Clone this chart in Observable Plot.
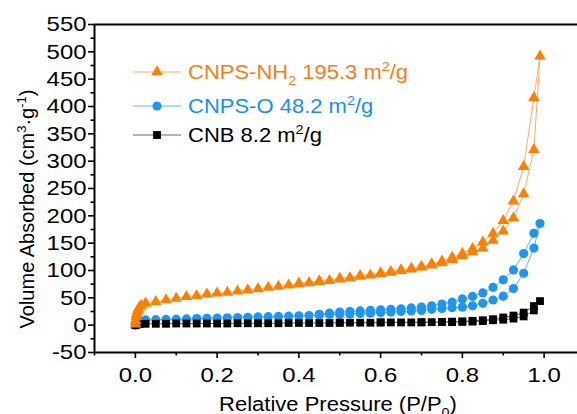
<!DOCTYPE html>
<html><head><meta charset="utf-8">
<script src="https://cdn.jsdelivr.net/npm/d3@7"></script>
<script src="https://cdn.jsdelivr.net/npm/@observablehq/plot@0.6"></script>
<style>
html,body{margin:0;padding:0;background:#fff;}
#chart{position:relative;width:577px;height:414px;overflow:hidden;}
</style></head><body><div id="chart"></div>
<script>
// ---- data ----
const xMajorTicks = [0, 0.2, 0.4, 0.6, 0.8, 1.0];
const xMinorTicks = [-0.1, 0.1, 0.3, 0.5, 0.7, 0.9];
const yMajorTicks = [-50, 0, 50, 100, 150, 200, 250, 300, 350, 400, 450, 500, 550];
const yMinorTicks = [-25, 25, 75, 125, 175, 225, 275, 325, 375, 425, 475, 525];

const seriesNames = ["CNPS-NH2", "CNPS-O", "CNB"];
const seriesAreas = ["195.3", "48.2", "8.2"];

// CNPS-NH2 (orange, triangles)
const nh2AdsP = [0.0005,0.001,0.002,0.003,0.005,0.007,0.01,0.015,0.025,0.05,0.075,0.1,0.125,0.15,0.175,0.2,0.225,0.25,0.275,0.3,0.325,0.35,0.375,0.4,0.425,0.45,0.475,0.5,0.525,0.55,0.575,0.6,0.625,0.65,0.675,0.7,0.725,0.75,0.775,0.8,0.825,0.85,0.875,0.9,0.925,0.95,0.975,0.99];
const nh2AdsV = [2,8,15,20,25,29,33,36,40,43,46,49,52,54,56.5,58.5,60,62,64.5,66.5,69,71,73,75.5,77.5,79.5,81.5,84,86.5,89,91.5,94,96.5,99.5,102.5,106,110,114,120,127,134,141,155,172,196,240,321,492];
const nh2DesP = [0.975,0.95,0.925,0.9,0.875,0.85,0.825,0.8,0.775,0.75,0.725,0.7,0.675,0.65,0.625,0.6,0.55,0.5,0.45,0.4];
const nh2DesV = [416,290,227,191,168,152,140,131,124,117,112,107.5,104,101,98,95.5,90.5,85.5,81,76.5];

// CNPS-O (blue, circles)
const oAdsP = [0,0.002,0.005,0.01,0.025,0.05,0.075,0.1,0.125,0.15,0.175,0.2,0.225,0.25,0.275,0.3,0.325,0.35,0.375,0.4,0.425,0.45,0.475,0.5,0.525,0.55,0.575,0.6,0.625,0.65,0.675,0.7,0.725,0.75,0.775,0.8,0.825,0.85,0.875,0.9,0.925,0.95,0.975,0.99];
const oAdsV = [0,4,7,8.5,9.5,10,10.5,11,11.5,12,12.5,13,13.5,14,14.5,15,15.5,16,16.5,17,17.5,18.5,19.5,20,20.5,21.5,22,23,24,25,26,27,29,30.5,32,33,35.5,40,46,53,67,95,141,186];
const oDesP = [0.975,0.95,0.925,0.9,0.875,0.85,0.825,0.8,0.775,0.75,0.725,0.7,0.675,0.65,0.625,0.6,0.575,0.55,0.525,0.5,0.475,0.45];
const oDesV = [168,131,101,83,69,59,52.5,48,42,38.5,35.5,33,31.5,30,29,28,27,26,25,24,22,20];

// CNB (black, squares)
const cnbAdsP = [0,0.002,0.005,0.01,0.025,0.05,0.075,0.1,0.125,0.15,0.175,0.2,0.225,0.25,0.275,0.3,0.325,0.35,0.375,0.4,0.425,0.45,0.475,0.5,0.525,0.55,0.575,0.6,0.625,0.65,0.675,0.7,0.725,0.75,0.775,0.8,0.825,0.85,0.875,0.9,0.925,0.95,0.975,0.99];
const cnbAdsV = [0,1,1.5,2,2.5,2.5,2.5,3,3,3,3,3,3,3.5,3.5,3.5,3.5,3.5,4,4,4,4,4,4.5,4.5,4.5,4.5,5,5,5,5,5,5.5,5.5,5.5,6,6.5,7.5,9,10,12,16,27,44];
const cnbDesP = [0.975,0.95,0.925,0.9,0.875,0.85,0.825,0.8,0.775,0.75,0.7,0.6,0.5];
const cnbDesV = [35,23,17.5,14,11,9,8,7,6.5,6,5.5,5,4.5];

// ---- build rows ----
function rows(name, adsP, adsV, desP, desV) {
  return adsP.map((p, i) => ({name, p, v: adsV[i]}))
    .concat(desP.map((p, i) => ({name, p, v: desV[i]})));
}
const nh2 = rows(seriesNames[0], nh2AdsP, nh2AdsV, nh2DesP, nh2DesV);
const cnpsO = rows(seriesNames[1], oAdsP, oAdsV, oDesP, oDesV);
const cnb = rows(seriesNames[2], cnbAdsP, cnbAdsV, cnbDesP, cnbDesV);

const ORANGE = "#ff7f00", ORANGE_LINE = "#ffad63", ORANGE_TEXT = "#f57e1c";
const BLUE = "#1e95ef", BLUE_LINE = "#62b2f2", BLUE_TEXT = "#1b8fe8";
const BLACK = "#000", BLACK_LINE = "#6a6a6a";
const FONT = "'Liberation Sans', Arial, Helvetica, sans-serif";

const plot = Plot.plot({
  width: 577, height: 414,
  marginLeft: 94, marginRight: 0, marginTop: 24, marginBottom: 62,
  x: {domain: [-0.1, 1.0817]},
  y: {domain: [-50, 550]},
  style: {fontFamily: FONT, fontSize: "21px", color: "#000", background: "#fff", overflow: "visible"},
  marks: [
    Plot.axisX({ticks: xMajorTicks, tickSize: 6, tickPadding: 9, tickFormat: d => d.toFixed(1), label: null, strokeWidth: 1.6, fontSize: 21}),
    Plot.axisX({ticks: xMinorTicks, tickSize: 3.5, tickFormat: () => "", label: null, strokeWidth: 1.6}),
    Plot.axisY({ticks: yMajorTicks, tickSize: 6, tickPadding: 2, tickFormat: d => String(d), label: null, strokeWidth: 1.6, fontSize: 21}),
    Plot.axisY({ticks: yMinorTicks, tickSize: 3.5, tickFormat: () => "", label: null, strokeWidth: 1.6}),
    Plot.ruleY([550], {stroke: "#000", strokeWidth: 2}),
    Plot.ruleY([-50], {stroke: "#000", strokeWidth: 2}),
    Plot.ruleX([-0.1], {stroke: "#000", strokeWidth: 2}),
    // CNPS-O
    Plot.line(cnpsO, {x: "p", y: "v", stroke: BLUE_LINE, strokeWidth: 1}),
    Plot.dot(cnpsO, {x: "p", y: "v", symbol: "circle", r: 4.6, fill: BLUE, stroke: "none"}),
    // CNB
    Plot.line(cnb, {x: "p", y: "v", stroke: BLACK_LINE, strokeWidth: 1}),
    Plot.dot(cnb, {x: "p", y: "v", symbol: "square", r: 4.4, fill: BLACK, stroke: "none"}),
    // CNPS-NH2
    Plot.line(nh2, {x: "p", y: "v", stroke: ORANGE_LINE, strokeWidth: 1}),
    Plot.dot(nh2, {x: "p", y: "v", symbol: "triangle", r: 4.3, fill: ORANGE, stroke: "none"})
  ]
});
document.getElementById("chart").appendChild(plot);

// widen horizontal texts a little, as in the reference
function stretch(sel, k) {
  sel.each(function() {
    const len = this.getComputedTextLength();
    if (len > 0) {
      this.setAttribute("textLength", (len * k).toFixed(2));
      this.setAttribute("lengthAdjust", "spacingAndGlyphs");
    }
  });
}
const svg = d3.select(plot);
stretch(svg.selectAll("text"), 1.14);

function richText(g, parts, attrs) {
  const t = g.append("text").attr("font-family", FONT);
  for (const [k, v] of Object.entries(attrs)) t.attr(k, v);
  let shift = 0;
  for (const part of parts) {
    const ts = t.append("tspan").text(part.t);
    const target = part.sup ? -8 : part.sub ? 6 : 0;
    if (target !== shift) ts.attr("dy", target - shift);
    shift = target;
    if (part.sup || part.sub) ts.attr("font-size", "13px");
  }
  return t;
}

// x title
const xt = richText(svg, [{t: "Relative Pressure (P/P"}, {t: "0", sub: true}, {t: ")"}],
  {x: 338, y: 411, "text-anchor": "middle", "font-size": "20px", fill: "#000"});
stretch(xt, 1.1);
// y title
const yt = svg.append("g").attr("transform", "translate(34,209) rotate(-90)");
richText(yt, [{t: "Volume Absorbed (cm"}, {t: "3", sup: true}, {t: "·g"}, {t: "-1", sup: true}, {t: ")"}],
  {x: 0, y: 0, "text-anchor": "middle", "font-size": "20px", fill: "#000"});

// legend
const legend = [
  {y: 72, color: ORANGE, line: ORANGE_LINE, text: ORANGE_TEXT, symbol: d3.symbolTriangle, size: Math.PI * 4.3 * 4.3,
   parts: [{t: "CNPS-NH"}, {t: "2", sub: true}, {t: " " + seriesAreas[0] + " m"}, {t: "2", sup: true}, {t: "/g"}]},
  {y: 106, color: BLUE, line: BLUE_LINE, text: BLUE_TEXT, symbol: d3.symbolCircle, size: Math.PI * 4.6 * 4.6,
   parts: [{t: seriesNames[1] + " " + seriesAreas[1] + " m"}, {t: "2", sup: true}, {t: "/g"}]},
  {y: 135, color: BLACK, line: BLACK_LINE, text: "#000", symbol: d3.symbolSquare, size: Math.PI * 4.4 * 4.4,
   parts: [{t: seriesNames[2] + " " + seriesAreas[2] + " m"}, {t: "2", sup: true}, {t: "/g"}]}
];
const lg = svg.append("g");
for (const row of legend) {
  lg.append("line").attr("x1", 133).attr("x2", 181).attr("y1", row.y).attr("y2", row.y)
    .attr("stroke", row.line).attr("stroke-width", 1);
  lg.append("path").attr("d", d3.symbol(row.symbol, row.size)()).attr("transform", `translate(157,${row.y})`)
    .attr("fill", row.color);
  const t = richText(lg, row.parts, {x: 188, y: row.y + 7, "font-size": "20px", fill: row.text, "text-anchor": "start"});
  stretch(t, 1.1);
}
</script>
</body></html>
